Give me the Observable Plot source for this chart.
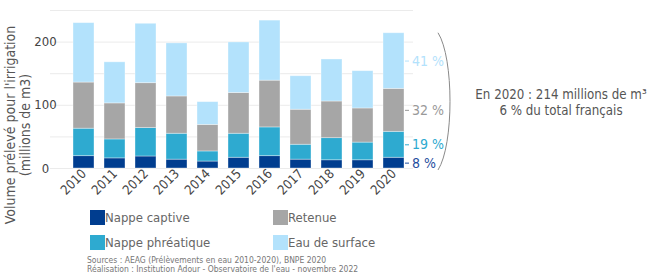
<!DOCTYPE html>
<html><head><meta charset="utf-8">
<script src="https://cdn.jsdelivr.net/npm/d3@7"></script>
<script src="https://cdn.jsdelivr.net/npm/@observablehq/plot@0.6"></script>
<style>
body{margin:0;background:#fff;}
#wrap{position:relative;width:650px;height:274px;overflow:hidden;font-family:"DejaVu Sans",sans-serif;font-stretch:condensed;}
#wrap svg{overflow:visible;}
.lg{position:absolute;font-size:13px;color:#666;line-height:16px;}
.lg span{display:inline-block;width:15px;height:15px;vertical-align:top;margin-right:0px;}
.cap{position:absolute;left:87px;font-size:8.5px;color:#777;line-height:9px;white-space:nowrap;}
.note{position:absolute;left:461px;width:200px;text-align:center;font-size:13.2px;color:#555;line-height:15px;white-space:nowrap;}
</style></head>
<body><div id="wrap"></div>
<script>
const years = ["2010","2011","2012","2013","2014","2015","2016","2017","2018","2019","2020"];
const series = ["Nappe captive","Nappe phréatique","Retenue","Eau de surface"];
const colors = ["#003d8f","#2eaad0","#a6a6a6","#b3e2fc"];
const labelColors = ["#1f4e9e","#2eaad0","#999999","#b3e2fc"];
const captive    = [19.5,16,19,14,11,17,19.5,14,13,13,17];
const phreatique = [43.5,30,45,41,16,38,45.5,23.6,35,28,41];
const retenue    = [73,57,71,59,42,64.5,74,55.4,58,54,68];
const surface    = [94,65,94,84,36,80,95,53,66.5,59,88];
const pctLabels = ["8 %","19 %","32 %","41 %"];
const yTicks = [0,100,200];
const gridTicks = [0,50,100,150,200,250];
const noteLines = ["En 2020 : 214 millions de m³","6 % du total français"];
const yTitle = ["Volume prélevé pour l'irrigation","(millions de m3)"];
const captionLines = ["Sources : AEAG (Prélèvements en eau 2010-2020), BNPE 2020","Réalisation : Institution Adour - Observatoire de l'eau - novembre 2022"];

const valuesBySeries = [captive, phreatique, retenue, surface];
const data = [];
years.forEach((y,i)=>series.forEach((s,j)=>data.push({year:y, serie:s, value:valuesBySeries[j][i]})));

// 2020 label positions (midpoints of stacked segments)
const last = years.length-1;
let cum = 0;
const pct = series.map((s,j)=>{const v=valuesBySeries[j][last]; const mid=cum+v/2; cum+=v; return {year:years[last], y:mid, label:pctLabels[j], color:labelColors[j]};});
const total2020 = cum;

const plot = Plot.plot({
  width: 650, height: 205,
  marginLeft: 50, marginRight: 223, marginTop: 10, marginBottom: 37,
  style: {fontFamily: '"DejaVu Sans", sans-serif', fontStretch:"condensed", fontSize: "13px", color:"#444", overflow:"visible"},
  x: {domain: years, paddingInner: 0.31, paddingOuter: 0.565, label: null},
  y: {domain: [0,250], label: null},
  color: {domain: series, range: colors},
  marks: [
    Plot.ruleY(gridTicks, {stroke:"#ebebeb", insetRight: 14}),
    Plot.barY(data, Plot.stackY({x:"year", y:"value", fill:"serie", order: series, stroke:"#ffffff", strokeOpacity:0.45, strokeWidth:0.8})),
    Plot.axisY(yTicks, {tickSize:0, tickPadding:5, textAnchor:"middle", fontSize:13, fill:"#444", label:null}),
    Plot.axisX({tickSize:0, tickPadding:3, tickRotate:-45, fontSize:13, fill:"#444", label:null}),
    Plot.tickY(pct, {x:"year", y:"y", stroke:"color", dx: 22, insetRight: 17, strokeWidth: 1}),
    Plot.text(pct, {x:"year", y:"y", text:"label", fill:"color", dx: 18, textAnchor:"start", fontSize:14})
  ]
});
const wrap = document.getElementById("wrap");
wrap.appendChild(plot);

const sx = plot.scale("x"), sy = plot.scale("y");
const svg = d3.select(plot);
// bracket spanning 2020 total
const bx = sx.apply(years[last]) + sx.bandwidth + 34;
const yTop = sy.apply(total2020), yBot = sy.apply(0)+2;
svg.append("path")
  .attr("d", `M${bx},${yTop} C${bx+16},${yTop+25} ${bx+16},${yBot-25} ${bx},${yBot}`)
  .attr("fill","none").attr("stroke","#8a8a8a").attr("stroke-width",1);
// y title
const yt = svg.append("text").attr("transform","translate(15,125) rotate(-90)")
  .attr("text-anchor","middle").attr("fill","#555").attr("font-size",14);
yt.append("tspan").attr("x",0).attr("dy",0).text(yTitle[0]);
yt.append("tspan").attr("x",0).attr("dy","1.05em").text(yTitle[1]);

// legend
const legPos = [[90,210],[90,235],[273,210],[273,235]];
series.forEach((s,j)=>{
  const d = document.createElement("div"); d.className="lg";
  d.style.left = legPos[j][0]+"px"; d.style.top = legPos[j][1]+"px";
  d.innerHTML = `<span style="background:${colors[j]}"></span>${s}`;
  wrap.appendChild(d);
});
captionLines.forEach((t,i)=>{
  const c = document.createElement("div"); c.className="cap";
  c.style.top = (256 + i*8.5)+"px"; c.textContent = t; wrap.appendChild(c);
});
noteLines.forEach((t,i)=>{
  const n = document.createElement("div"); n.className="note";
  n.style.top = (87 + i*15.5)+"px"; n.textContent = t; wrap.appendChild(n);
});
</script></body></html>
